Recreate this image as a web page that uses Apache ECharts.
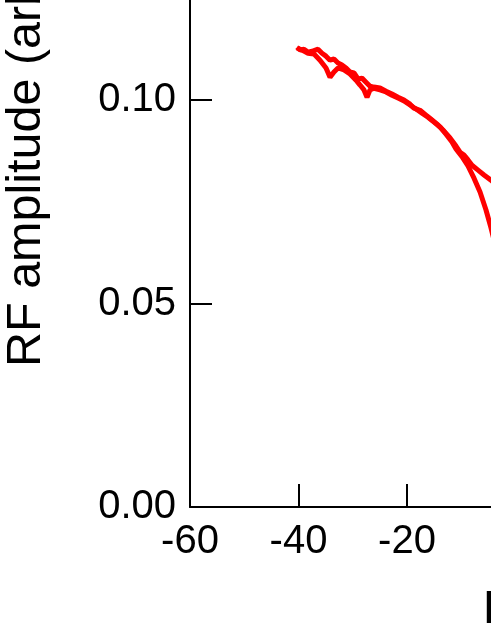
<!DOCTYPE html>
<html>
<head>
<meta charset="utf-8">
<script src="https://cdn.jsdelivr.net/npm/echarts@6/dist/echarts.min.js"></script>
<style>
html,body{margin:0;padding:0;background:#fff;}
#chart{width:491px;height:635px;}
</style>
</head>
<body>
<div id="chart"></div>
<script>
// Sweep 1 (outer branch)
var upField = [-40.28,-39.72,-38.99,-38.25,-37.51,-36.41,-35.67,-34.93,-34.19,-33.46,-32.72,-31.98,-31.24,-30.51,-29.77,-29.03,-28.30,-27.56,-26.82,-26.08,-24.98,-23.87,-22.77,-21.66,-20.55,-19.45,-18.71,-17.60,-16.50,-15.39,-14.29,-13.18,-12.07,-10.97,-10.23,-9.49,-8.76,-8.02,-6.91,-5.81,-4.52,-3.60];
var upAmp = [0.1130,0.1123,0.1125,0.1118,0.1120,0.1125,0.1115,0.1108,0.1098,0.1101,0.1091,0.1086,0.1079,0.1069,0.1067,0.1052,0.1054,0.1044,0.1034,0.1032,0.1030,0.1022,0.1015,0.1007,0.1000,0.0990,0.0980,0.0975,0.0963,0.0951,0.0939,0.0924,0.0907,0.0887,0.0872,0.0865,0.0853,0.0840,0.0828,0.0816,0.0803,0.0792];
// Sweep 2 (inner branch, return)
var downField = [-3.96,-4.52,-5.44,-6.54,-7.65,-8.76,-9.86,-10.97,-11.71,-12.81,-13.92,-15.02,-16.13,-17.24,-18.34,-19.45,-20.55,-21.66,-22.77,-23.87,-24.98,-26.08,-26.82,-27.37,-27.93,-28.66,-29.40,-30.51,-31.61,-32.72,-33.46,-34.19,-34.93,-36.04,-37.14,-38.25,-39.35,-40.28];
var downAmp = [0.0656,0.0686,0.0730,0.0774,0.0808,0.0838,0.0861,0.0880,0.0897,0.0916,0.0934,0.0946,0.0958,0.0968,0.0978,0.0988,0.0998,0.1005,0.1012,0.1020,0.1025,0.1029,0.1025,0.1007,0.1025,0.1037,0.1049,0.1064,0.1074,0.1079,0.1069,0.1056,0.1079,0.1098,0.1113,0.1115,0.1123,0.1128];

var xTicks = [-60, -40, -20];
var yTicks = [0, 0.05, 0.10];
var yTickLabels = ['0.00','0.05','0.10'];
var yAxisTitle = 'RF amplitude (arb. units)';
var xAxisTitle = 'Detuning (kHz)';

function pairs(xs, ys){ return xs.map(function(x,i){ return [x, ys[i]]; }); }

var font = 'Liberation Sans, Arial, sans-serif';
var chart = echarts.init(document.getElementById('chart'), null, {renderer:'canvas'});
chart.setOption({
  animation:false,
  backgroundColor:'#ffffff',
  grid:{left:190, right:0, top:0, bottom:128, containLabel:false},
  xAxis:{
    type:'value', min:-60, max:-4.52, interval:20,
    axisLine:{show:true, onZero:false, lineStyle:{color:'#000', width:2}},
    axisTick:{show:true, inside:true, length:23, customValues:xTicks, lineStyle:{color:'#000', width:2}},
    axisLabel:{color:'#000', fontSize:40, fontFamily:font, margin:15, customValues:xTicks, hideOverlap:false},
    splitLine:{show:false}
  },
  yAxis:{
    type:'value', min:0, max:0.1246, interval:0.05,
    axisLine:{show:true, onZero:false, lineStyle:{color:'#000', width:2}},
    axisTick:{show:true, inside:true, length:22, customValues:yTicks, lineStyle:{color:'#000', width:2}},
    axisLabel:{color:'#000', fontSize:40, fontFamily:font, margin:14, customValues:yTicks, hideOverlap:false,
      formatter:function(v){ var i = Math.round(v/0.05); return yTickLabels[i] || ''; }},
    splitLine:{show:false}
  },
  graphic:[
    {type:'text', x:27, y:367, rotation:Math.PI/2,
     style:{text:yAxisTitle, font:'48.5px ' + font, fill:'#000', textAlign:'left', textVerticalAlign:'middle'}},
    {type:'text', x:483, y:610,
     style:{text:xAxisTitle, font:'46px ' + font, fill:'#000', textAlign:'left', textVerticalAlign:'middle'}}
  ],
  series:[
    {type:'line', data:pairs(upField, upAmp), showSymbol:false, symbol:'none',
     lineStyle:{color:'#ff0000', width:5}, itemStyle:{color:'#ff0000'}},
    {type:'line', data:pairs(downField, downAmp), showSymbol:false, symbol:'none',
     lineStyle:{color:'#ff0000', width:5}, itemStyle:{color:'#ff0000'}}
  ]
});
</script>
</body>
</html>
